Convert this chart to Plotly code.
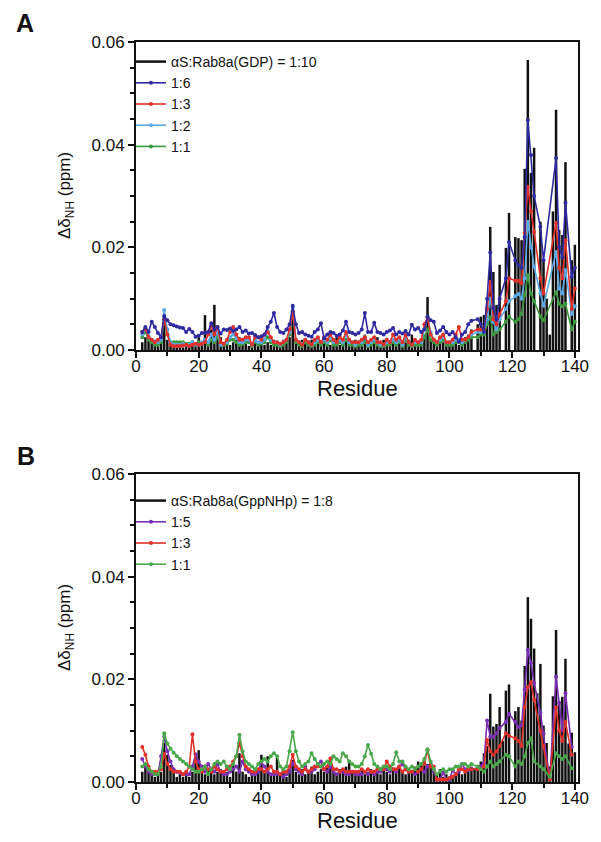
import plotly.graph_objects as go

# chemical shift perturbations, in units of 0.001 ppm, residues 1..140 (None = not observed)
residues = list(range(1, 141))

# Panel A: alphaS : Rab8a(GDP)
gdp_1_10 = [
    None, 1.5, 2.5, 3.0, 1.5, 2.0, 1.0, 2.5, 6.4, 2.0,
    1.5, 1.0, 0.8, 1.2, 0.5, 0.8, 1.0, 1.5, 1.2, 2.5,
    1.0, 6.8, 1.5, 4.0, 8.8, 3.0, 2.5, 1.5, 2.0, 1.0,
    1.5, 2.0, 2.5, 1.0, 1.5, 0.8, 1.0, 1.5, 1.2, 2.0,
    1.0, 1.5, 1.0, 2.0, 1.5, 1.0, 2.0, 1.5, 2.5, 7.0,
    1.5, 1.0, 2.0, 1.5, 1.0, 2.0, 1.5, 2.5, 1.0, 1.5,
    2.0, 1.0, 1.5, 2.5, 1.0, 1.5, 2.0, 1.0, 1.5, 2.0,
    1.0, 1.5, 3.0, 1.5, 1.0, 1.5, 2.5, 1.0, 2.0, 1.5,
    1.0, 2.0, 1.5, 2.5, 1.0, 1.5, 2.0, 3.0, 1.5, 1.0,
    2.0, 3.0, 10.3, 2.0, 1.5, 1.0, 2.0, 1.5, 1.0, 1.5,
    1.0, 1.5, 1.0, 2.0, 2.5, 3.0, 4.0, None, 5.0, 6.5,
    6.8, 9.0, 24.0, 15.2, 8.8, 16.6, None, 19.9, 26.7, None,
    22.0, 21.8, 21.4, 35.3, 56.5, 34.5, 39.4, None, 25.0, 17.5,
    10.0, 3.0, 27.0, 46.8, 23.4, 22.4, 36.6, None, 17.5, 20.5,
]
gdp_1_6 = [
    None, 3.5, 4.5, 3.5, 5.5, 4.5, 3.3, 2.5, 6.6, 5.8,
    5.0, 4.8, 4.6, 4.4, 4.3, 3.5, 4.1, 3.5, 2.6, 2.8,
    3.3, 3.3, 3.5, 5.2, 4.0, 4.5, 3.2, 4.0, 3.9, 4.2,
    3.7, 4.0, 4.5, 3.5, 3.8, 3.2, 3.3, 2.9, 2.5, 2.7,
    3.0, 4.5, 5.5, 7.2, 4.5, 3.5, 3.3, 4.0, 5.0, 8.6,
    5.0, 3.3, 3.5, 3.0, 2.8, 2.6, 3.5, 4.0, 5.2, 2.3,
    3.0, 3.5, 3.3, 2.8, 3.0, 3.8, 5.5, 3.5, 3.3, 3.0,
    3.3, 4.0, 7.2, 3.5, 3.5, 5.3, 3.5, 3.3, 3.0, 3.5,
    3.8, 4.3, 3.0, 3.5, 3.2, 3.7, 3.0, 4.9, 4.0, 4.3,
    3.5, 4.0, 6.5, 5.8, 5.5, 3.3, 3.8, 4.5, 3.5, 3.0,
    3.5, 2.5, 1.6, 3.0, 3.5, 5.0, 5.7, None, 6.0, 5.0,
    3.5, 10.0, 19.0, 8.2, 6.0, 10.0, None, 14.0, 21.0, None,
    17.5, 16.5, 16.0, 22.0, 44.8, 38.0, 30.0, None, 24.0, 17.5,
    None, None, None, 37.4, 20.0, 18.0, 28.7, None, 14.2, 16.0,
]
gdp_1_3 = [
    None, 3.5, 4.2, 2.5, 2.0, 1.5, 2.0, 2.5, 6.0, 3.0,
    1.0, 0.8, 0.8, 0.8, 0.9, 1.0, 0.8, 1.0, 1.2, 1.0,
    1.2, 1.5, 3.0, 4.7, 3.0, 4.5, 1.5, 1.2, 2.0, 3.5,
    4.5, 3.0, 2.0, 2.0, 2.5, 2.5, 1.0, 2.5, 2.5, 2.0,
    3.0, 3.5, 2.5, 1.5, 1.5, 1.2, 1.5, 2.0, 4.0, 7.5,
    2.0, 1.5, 1.0, 2.0, 1.5, 1.0, 2.0, 2.5, 1.5, 2.5,
    2.0, 3.0, 2.0, 1.5, 2.5, 2.0, 3.5, 2.0, 1.5, 1.5,
    1.5, 2.0, 2.5, 1.5, 2.0, 2.5, 1.5, 1.5, 1.0, 2.0,
    1.5, 3.0, 2.0, 2.5, 1.5, 3.0, 1.5, 1.0, 2.0, 1.5,
    2.0, 5.0, 6.4, 3.0, 2.0, 1.5, 2.5, 3.0, 1.5, 1.5,
    2.0, 3.0, 4.5, 2.0, 2.0, 2.5, 3.5, None, 4.0, 4.0,
    4.0, 8.0, 13.3, 6.0, 5.0, 7.0, None, 9.5, 14.0, None,
    13.5, 13.5, 13.0, 22.8, 31.8, 27.0, 23.0, None, 14.0, 11.0,
    None, None, None, 24.8, 16.0, 14.0, 21.4, None, 8.0, 12.0,
]
gdp_1_2 = [
    None, 3.0, 4.2, 2.5, 2.0, 1.5, 1.5, 2.0, 7.8, 4.0,
    1.5, 1.0, 1.0, 1.0, 1.2, 1.0, 1.0, 1.5, 1.0, 1.0,
    1.5, 2.0, 1.5, 3.0, 2.0, 3.5, 1.0, 1.2, 1.5, 2.5,
    3.0, 2.5, 1.5, 1.5, 2.0, 2.0, 1.0, 2.0, 1.5, 1.5,
    2.0, 4.5, 2.0, 1.5, 1.5, 1.0, 1.5, 2.0, 3.5, 8.3,
    2.0, 1.5, 1.2, 2.0, 1.5, 1.0, 1.5, 2.0, 1.5, 2.0,
    1.5, 2.5, 1.5, 1.5, 2.0, 1.5, 3.0, 1.5, 1.5, 1.0,
    1.5, 1.5, 2.5, 1.0, 1.5, 2.0, 1.5, 1.0, 1.0, 1.5,
    1.5, 2.0, 1.5, 2.0, 1.0, 2.5, 1.5, 1.0, 1.5, 1.5,
    1.5, 4.0, 6.5, 3.5, 2.0, 1.5, 2.0, 2.5, 1.5, 1.5,
    1.5, 2.0, 2.0, 1.5, 2.0, 2.5, 3.0, None, 3.5, 3.5,
    3.5, 6.0, 10.1, 5.5, 4.0, 6.0, None, 8.0, 9.5, None,
    10.5, 10.9, 10.0, 14.0, 25.0, 20.0, 16.2, None, 11.0, 8.6,
    None, None, None, 19.1, 12.0, 11.0, 15.6, None, 7.0, 8.5,
]
gdp_1_1 = [
    None, 2.5, 3.5, 2.0, 1.5, 1.0, 1.0, 1.5, 6.0, 3.0,
    1.5, 1.5, 1.5, 1.5, 1.5, 1.2, 1.2, 1.5, 1.0, 1.5,
    1.2, 1.5, 1.0, 2.0, 1.5, 2.5, 1.0, 1.0, 1.2, 2.0,
    2.0, 1.5, 1.0, 1.2, 1.5, 1.5, 0.8, 1.5, 1.0, 1.2,
    1.5, 2.5, 1.5, 1.0, 1.0, 0.8, 1.0, 1.5, 3.0, 7.5,
    1.5, 1.0, 0.8, 1.5, 1.0, 0.8, 1.0, 1.5, 1.0, 1.5,
    1.0, 2.0, 1.0, 1.0, 1.5, 1.0, 2.0, 1.0, 1.0, 0.8,
    1.0, 1.0, 1.5, 0.8, 1.0, 1.5, 1.0, 0.8, 0.8, 1.0,
    1.0, 1.5, 1.0, 1.5, 0.8, 2.0, 1.0, 0.8, 1.0, 1.0,
    1.0, 2.5, 4.0, 2.0, 1.5, 1.0, 1.5, 2.0, 1.0, 1.0,
    1.0, 1.5, 1.5, 1.0, 1.5, 2.0, 2.5, None, 2.5, 3.0,
    3.0, 5.0, 6.4, 3.0, 3.5, 4.0, None, 5.5, 6.5, None,
    5.5, 6.0, 7.0, 10.7, 14.6, 11.0, 9.5, None, 6.5, 5.8,
    None, None, None, 11.3, 9.0, 8.5, 9.0, None, 4.0, 5.5,
]

# Panel B: alphaS : Rab8a(GppNHp)
gnp_1_8 = [
    None, 2.0, 3.0, 2.5, 1.5, 1.0, 1.5, 2.0, 7.6, 5.3,
    3.3, 2.0, 1.0, 1.5, 1.0, 1.5, 1.0, 2.0, 5.0, 6.2,
    2.0, 1.5, 2.5, 2.0, 1.5, 2.0, 2.5, 1.5, 2.0, 1.0,
    3.7, 2.0, 5.6, 2.0, 1.5, 1.0, 2.0, 1.5, 2.5, 5.3,
    2.0, 5.0, 1.5, 2.0, 4.7, 1.5, 2.0, 1.0, 2.5, 4.3,
    2.0, 1.5, 2.5, 1.5, 2.0, 3.0, 1.5, 2.0, 2.5, 2.0,
    3.0, 4.9, 2.0, 1.5, 2.5, 2.0, 3.0, 4.0, 2.0, 1.5,
    2.0, 2.5, 1.5, 2.0, 2.5, 1.5, 2.0, 1.5, 2.5, 2.0,
    1.5, 2.5, 2.0, 3.0, 2.0, 1.5, 2.5, 2.0, 3.0, 4.0,
    3.5, 4.0, 3.5, 4.0, 2.0, 1.5, 2.5, 1.0, 1.5, 1.0,
    1.0, 1.5, 2.0, 1.5, 2.5, 2.0, 3.0, 2.5, 3.0, 4.0,
    5.6, 7.0, 17.2, 10.8, 11.3, 14.6, 8.0, 17.8, 19.0, None,
    13.8, 14.6, 12.0, 22.6, 36.0, 31.8, 26.0, 17.3, 23.0, 11.0,
    7.6, 3.0, 16.7, 29.6, 15.8, 16.6, 24.0, 7.5, 9.6, 5.8,
]
gnp_1_5 = [
    None, 4.5, 3.0, 2.0, 1.5, 1.5, 1.5, 5.0, 8.8, 6.0,
    4.0, 2.5, 2.0, 1.8, 1.5, 1.5, 1.5, 3.0, 5.4, 4.0,
    3.0, 2.0, 3.5, 2.5, 2.0, 3.5, 2.0, 1.5, 1.5, 2.0,
    2.5, 3.0, 2.0, 4.0, 2.5, 2.0, 1.5, 1.5, 2.0, 3.9,
    3.0, 2.0, 1.5, 1.5, 1.5, 1.5, 1.0, 1.5, 2.0, 3.7,
    2.5, 2.0, 1.5, 3.0, 2.0, 2.0, 2.5, 3.5, 4.0, 2.5,
    2.0, 3.0, 2.0, 1.5, 2.0, 2.0, 1.5, 1.5, 2.0, 1.5,
    1.5, 1.5, 2.0, 1.5, 2.0, 1.5, 2.0, 2.0, 2.5, 2.5,
    2.0, 2.5, 2.0, 3.0, 3.5, 2.5, 2.0, 2.0, 1.5, 2.0,
    2.5, 2.0, 3.0, 3.5, 2.0, 0.5, 0.5, 1.8, 0.5, 0.5,
    2.3, 1.5, 2.0, 3.5, 2.5, 2.3, 2.5, None, 2.7, 3.0,
    3.7, 12.0, 8.8, 8.8, 9.5, 10.5, None, 11.7, 13.3, None,
    11.7, 10.7, 11.0, 18.0, 25.7, 23.2, 19.3, None, 13.5, 9.5,
    None, 0.6, None, 20.5, 15.4, 10.1, 17.3, None, 6.8, None,
]
gnp_1_3 = [
    None, 6.8, 5.3, 3.0, 2.0, 2.0, 2.0, 2.5, 5.5, 3.5,
    2.5, 2.0, 2.0, 2.0, 1.5, 2.0, 3.0, 9.3, 4.0, 2.5,
    2.0, 3.0, 2.5, 2.0, 3.0, 2.5, 2.0, 2.0, 2.5, 3.0,
    4.0, 5.0, 7.6, 5.0, 3.0, 2.5, 2.0, 2.0, 2.5, 2.5,
    2.0, 2.5, 3.0, 2.0, 2.0, 1.5, 2.0, 2.0, 3.0, 5.3,
    3.0, 2.5, 2.0, 2.5, 2.0, 2.5, 3.0, 3.0, 3.0, 2.5,
    3.0, 4.6, 2.5, 2.5, 2.0, 2.5, 2.0, 2.0, 2.0, 2.0,
    2.0, 2.5, 2.0, 2.5, 2.0, 2.0, 2.5, 2.5, 2.5, 4.0,
    3.0, 2.5, 2.5, 3.0, 2.0, 2.5, 2.0, 2.0, 2.5, 2.0,
    2.5, 3.5, 6.2, 3.0, 3.0, 0.5, 0.5, 0.5, 0.5, 0.8,
    1.0, 1.5, 2.5, 2.5, 2.0, 2.5, 2.5, None, 2.5, 2.5,
    3.0, 8.2, 6.0, 5.3, 6.0, 7.0, None, 9.5, 9.0, None,
    8.5, 8.0, 7.0, 14.6, 18.5, 19.5, 16.0, None, 10.0, 7.0,
    None, 0.5, None, 14.5, 10.0, 8.0, 11.7, None, 5.3, None,
]
gnp_1_1 = [
    None, 3.0, 3.5, 2.5, 2.0, 1.5, 1.5, 3.0, 9.5, 7.5,
    6.5, 5.7, 5.0, 4.5, 4.0, 3.5, 3.0, 2.5, 2.0, 2.0,
    2.5, 3.0, 1.5, 2.5, 3.5, 4.0, 3.5, 4.0, 3.0, 2.5,
    3.5, 5.0, 9.2, 6.0, 4.0, 3.5, 3.0, 2.5, 3.5, 4.0,
    4.5, 4.0, 5.0, 5.6, 5.0, 3.0, 2.5, 3.0, 6.0, 9.7,
    6.0, 4.0, 3.0, 3.5, 4.0, 5.6, 4.5, 3.5, 3.0, 3.5,
    4.0, 3.5, 5.0, 4.5, 4.0, 5.6, 5.0, 4.0, 3.5, 3.0,
    3.0, 3.5, 5.0, 7.2, 5.5, 3.5, 3.0, 2.5, 3.0, 3.0,
    2.5, 3.5, 5.8, 4.0, 4.0, 3.0, 2.5, 3.0, 2.5, 3.0,
    3.5, 4.5, 6.4, 4.0, 2.5, 1.5, 2.0, 2.5, 2.0, 2.5,
    2.5, 3.0, 3.0, 3.5, 3.5, 3.0, 3.5, None, 3.0, 2.5,
    2.0, 3.0, 4.0, 3.0, 3.5, 4.0, None, 5.3, 5.0, None,
    3.0, 4.0, 3.5, 5.0, 7.6, 8.5, 4.0, None, 3.0, 2.5,
    None, 1.0, None, 5.6, 5.0, 4.5, 5.0, None, 2.7, None,
]

x_ticks = [0, 20, 40, 60, 80, 100, 120, 140]
y_ticks = [0.00, 0.02, 0.04, 0.06]


def ppm(vals):
    # stored as 0.001 ppm
    return [None if v is None else v / 1000 for v in vals]


FONT = "Arial, Liberation Sans, sans-serif"
BLACK = "#111111"

# the page body adds an 8px margin, so the figure is laid out in its own px
W, H, OFF = 593, 834, 8


def px_x(p):
    return (p - OFF) / W


def px_y(p):
    return 1 - (p - OFF) / H


fig = go.Figure()


def add_panel(bars, bar_name, series, xa, ya, legend):
    fig.add_trace(go.Bar(
        x=residues, y=ppm(bars), width=0.8, marker_color=BLACK,
        marker_line_width=0, showlegend=False, xaxis=xa, yaxis=ya,
    ))
    # legend entry drawn as a line, like the original
    fig.add_trace(go.Scatter(
        x=[None], y=[None], mode="lines", name=bar_name,
        line=dict(color=BLACK, width=2.5), xaxis=xa, yaxis=ya,
        legend=legend, legendrank=1,
    ))
    for name, vals, color, order in series:
        fig.add_trace(go.Scatter(
            x=residues, y=ppm(vals), name=name, mode="lines+markers",
            connectgaps=True, line=dict(color=color, width=1.6),
            marker=dict(size=4, color=color), xaxis=xa, yaxis=ya,
            legend=legend, legendrank=order,
        ))


# drawing order: weakest ratio first so the strongest sits on top
add_panel(gdp_1_10, "αS:Rab8a(GDP) = 1:10", [
    ("1:1", gdp_1_1, "#3c9a3c", 5),
    ("1:2", gdp_1_2, "#5aa9e6", 4),
    ("1:3", gdp_1_3, "#e0302a", 3),
    ("1:6", gdp_1_6, "#2e2aa0", 2),
], "x", "y", "legend")

add_panel(gnp_1_8, "αS:Rab8a(GppNHp) = 1:8", [
    ("1:5", gnp_1_5, "#7a2fb4", 2),
    ("1:3", gnp_1_3, "#e0302a", 3),
    ("1:1", gnp_1_1, "#4aa84a", 4),
], "x2", "y2", "legend2")

xdom = [px_x(136), px_x(578)]
axis_common = dict(
    showline=True, linecolor=BLACK, linewidth=2, mirror=True,
    ticks="outside", ticklen=6, tickwidth=2, tickcolor=BLACK,
    showgrid=False, zeroline=False, automargin=False,
    tickfont=dict(family=FONT, size=17, color=BLACK),
)
xaxis = dict(
    axis_common, range=[0, 141], tickvals=x_ticks, ticklabelstandoff=-6,
    minor=dict(dtick=10, tick0=0, ticks="outside", ticklen=4, tickwidth=2, tickcolor=BLACK),
)
yaxis = dict(
    axis_common, range=[0, 0.06], tickvals=y_ticks, tickformat=".2f",
    minor=dict(dtick=0.005, tick0=0, ticks="outside", ticklen=4, tickwidth=2, tickcolor=BLACK),
)

legend_common = dict(
    font=dict(family=FONT, size=14, color=BLACK), bgcolor="rgba(0,0,0,0)",
    xanchor="left", yanchor="top", tracegroupgap=0, itemwidth=30,
    traceorder="normal",
)


def label(text, x, y, size, angle=0, bold=False):
    return dict(text=f"<b>{text}</b>" if bold else text, x=px_x(x), y=px_y(y),
                xref="paper", yref="paper", xanchor="center", yanchor="middle",
                showarrow=False, textangle=angle,
                font=dict(family=FONT, size=size, color=BLACK))


ytitle = "Δδ<sub>NH</sub> (ppm)"
fig.update_layout(
    width=W, height=H,
    margin=dict(l=0, r=0, t=0, b=0),
    paper_bgcolor="white", plot_bgcolor="white",
    barmode="overlay",
    xaxis=dict(xaxis, domain=xdom, anchor="y"),
    yaxis=dict(yaxis, domain=[px_y(350), px_y(42)], anchor="x"),
    xaxis2=dict(xaxis, domain=xdom, anchor="y2"),
    yaxis2=dict(yaxis, domain=[px_y(782), px_y(474)], anchor="x2"),
    legend=dict(legend_common, x=px_x(131), y=px_y(46)),
    legend2=dict(legend_common, x=px_x(131), y=px_y(485)),
    annotations=[
        label("A", 25, 23, 25, bold=True),
        label("B", 26, 456, 25, bold=True),
        label("Residue", 357, 388, 22),
        label("Residue", 357, 820, 22),
        label(ytitle, 66, 196, 17, angle=-90),
        label(ytitle, 66, 628, 17, angle=-90),
    ],
)

fig.write_html("out.html")
